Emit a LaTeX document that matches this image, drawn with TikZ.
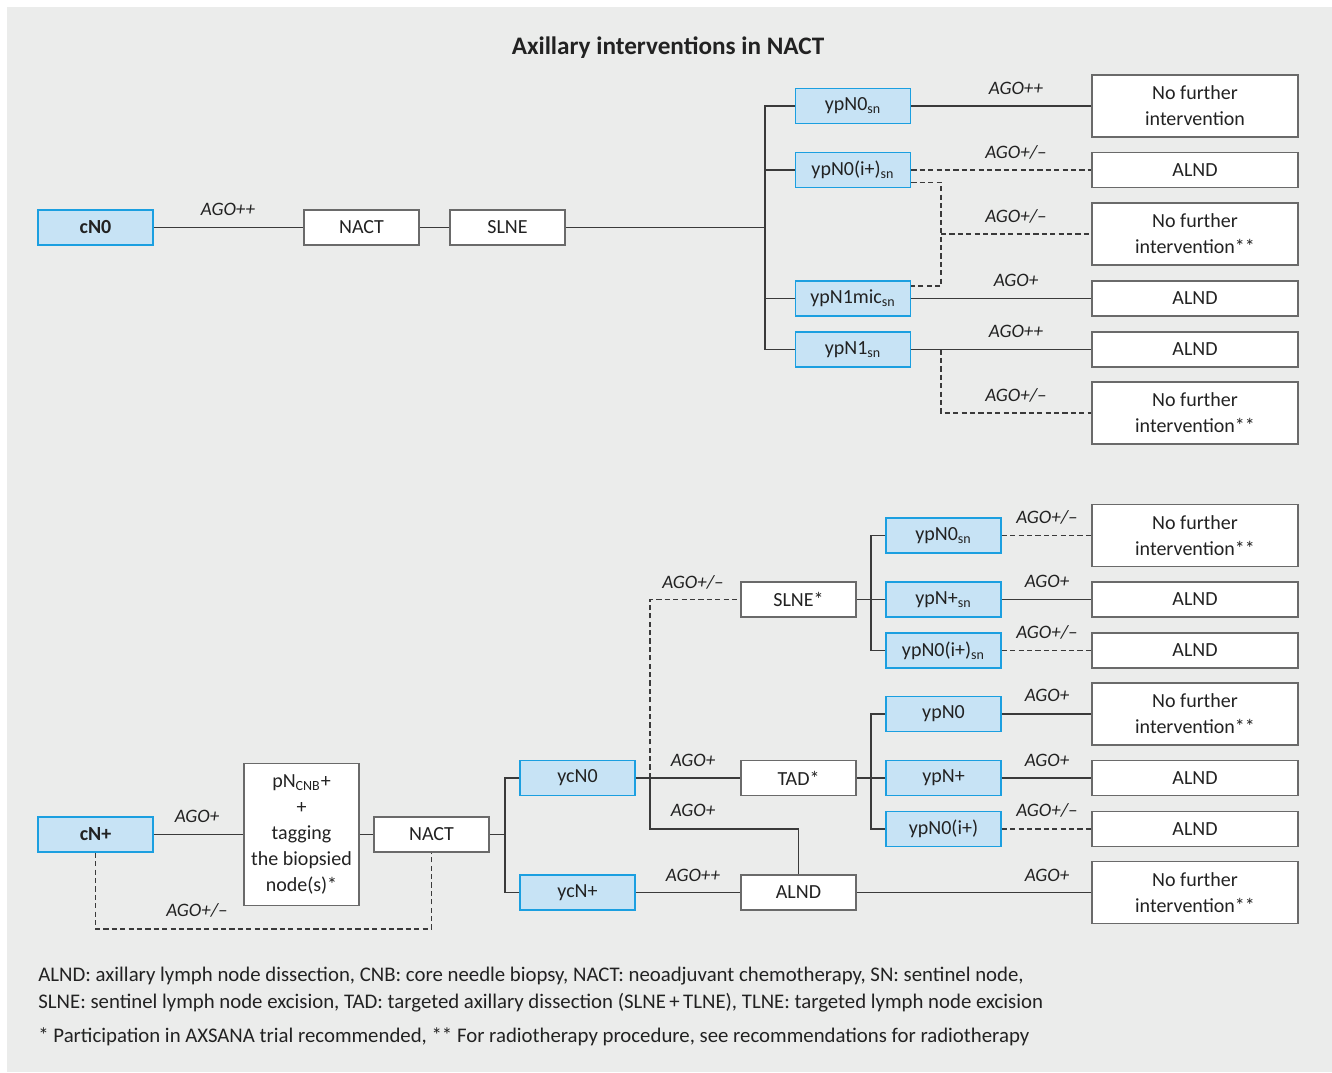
\documentclass[tikz,border=0pt]{standalone}
\usepackage{fontspec}
\setmainfont{Carlito}
\usetikzlibrary{positioning}
\definecolor{panel}{HTML}{EBECEB}
\definecolor{bluefill}{HTML}{C7E3F5}
\definecolor{blueline}{HTML}{1B9FE0}
\definecolor{boxline}{HTML}{6A6A6A}
\definecolor{wire}{HTML}{3A3A3A}
\definecolor{ink}{HTML}{222222}
\tikzset{
  prog/.style={rectangle, draw=boxline, fill=white, line width=0.8pt, text=ink, minimum width=57.5pt, minimum height=17.5pt, inner sep=1pt, font={\fontsize{10}{13}\selectfont}},
  progbl/.style={prog, draw=blueline, fill=bluefill},
  outcome/.style={prog, minimum width=103pt, align=center},
  outcome2/.style={outcome, minimum height=31pt},
  tagbox/.style={prog, minimum height=71pt, align=center},
  line/.style={draw=wire, line width=0.7pt},
  dline/.style={draw=wire, line width=0.75pt, dash pattern=on 2.6pt off 1.6pt},
  ago/.style={font={\fontsize{9.5}{11}\selectfont\itshape}, text=ink, inner sep=0pt},
  note/.style={font={\fontsize{10.4}{12}\selectfont}, text=ink, anchor=west, inner sep=0pt},
}
\begin{document}
\begin{tikzpicture}[x=0.5pt,y=-0.5pt]
    \fill[white] (0,0) rectangle (1332,1072);
    \fill[panel] (7,7) rectangle (1332,1072);

    \node[font={\fontsize{12.6}{15}\selectfont\bfseries}, text=ink] (title) at (668,48) {Axillary interventions in NACT};

    % cN0 branch
    \node[progbl, font={\fontsize{10}{13}\selectfont\bfseries}] (cn0) at (95.5,227.5) {cN0};
    \node[prog, right of=cn0, node distance=133pt] (nact1) {NACT};
    \node[prog, right of=nact1, node distance=73pt] (slne1) {SLNE};

    \node[progbl] (n0sn) at (853,106) {ypN0\textsubscript{sn}};
    \node[progbl] (n0isn) at (853,170) {ypN0(i+)\textsubscript{sn}};
    \node[progbl] (n1micsn) at (853,298.5) {ypN1mic\textsubscript{sn}};
    \node[progbl] (n1sn) at (853,349.5) {ypN1\textsubscript{sn}};

    \node[outcome2] (nfi1) at (1195,106) {No further\\intervention};
    \node[outcome] (alnd1) at (1195,170) {ALND};
    \node[outcome2] (nfi2) at (1195,234) {No further\\intervention**};
    \node[outcome] (alnd2) at (1195,298.5) {ALND};
    \node[outcome] (alnd3) at (1195,349.5) {ALND};
    \node[outcome2] (nfi3) at (1195,413) {No further\\intervention**};

    \coordinate (tk1) at (765,227.5);
    \coordinate (dj1) at (941,234);
    \coordinate (dj2) at (941,349.5);

    \node[ago] (a1) at (228,209) {AGO++};
    \node[ago] (a2) at (1016,88) {AGO++};
    \node[ago] (a3) at (1016,152) {AGO+/–};
    \node[ago] (a4) at (1016,216) {AGO+/–};
    \node[ago] (a5) at (1016,280) {AGO+};
    \node[ago] (a6) at (1016,331) {AGO++};
    \node[ago] (a7) at (1016,395) {AGO+/–};

    \begin{scope}[every path/.style=line]
      \path (cn0) -- (nact1);
      \path (nact1) -- (slne1);
      \path (slne1) -- (tk1);
      \path (n0sn.west) -| (tk1);
      \path (n0isn.west) -| (tk1);
      \path (n1micsn.west) -| (tk1);
      \path (n1sn.west) -| (tk1);
      \path (n0sn) -- (nfi1);
      \path (n1micsn) -- (alnd2);
      \path (n1sn) -- (alnd3);
    \end{scope}
    \begin{scope}[every path/.style=dline]
      \path (n0isn) -- (alnd1);
      \path ([yshift=3pt]n0isn.south east) -| (dj1) |- ([yshift=-3pt]n1micsn.north east);
      \path (dj1) -- (nfi2.west);
      \path (dj2) |- (nfi3.west);
    \end{scope}

    % cN+ branch
    \node[progbl, font={\fontsize{10}{13}\selectfont\bfseries}] (cnp) at (95.5,834.5) {cN+};
    \node[tagbox] (tag) at (301.5,834.5) {pN\textsubscript{CNB}+\\+\\tagging\\the biopsied\\node(s)*};
    \node[prog] (nact2) at (431.5,834.5) {NACT};
    \node[progbl] (ycn0) at (577.5,778) {ycN0};
    \node[progbl] (ycnp) at (577.5,892.5) {ycN+};
    \node[prog] (slne2) at (798.5,599.5) {SLNE*};
    \node[prog] (tad) at (798.5,778) {TAD*};
    \node[prog] (alnd5) at (798.5,892.5) {ALND};

    \node[progbl] (n0sn2) at (943.5,535.5) {ypN0\textsubscript{sn}};
    \node[progbl] (npsn) at (943.5,599.5) {ypN+\textsubscript{sn}};
    \node[progbl] (n0isn2) at (943.5,650.5) {ypN0(i+)\textsubscript{sn}};
    \node[progbl] (n0) at (943.5,714) {ypN0};
    \node[progbl] (np) at (943.5,778) {ypN+};
    \node[progbl] (n0i) at (943.5,829) {ypN0(i+)};

    \node[outcome2] (nfi4) at (1195,535.5) {No further\\intervention**};
    \node[outcome] (alnd6) at (1195,599.5) {ALND};
    \node[outcome] (alnd7) at (1195,650.5) {ALND};
    \node[outcome2] (nfi5) at (1195,714) {No further\\intervention**};
    \node[outcome] (alnd8) at (1195,778) {ALND};
    \node[outcome] (alnd9) at (1195,829) {ALND};
    \node[outcome2] (nfi6) at (1195,892.5) {No further\\intervention**};

    \coordinate (dk1) at (95.5,929);
    \coordinate (tk2) at (505,834.5);
    \coordinate (tk3) at (650,778);
    \coordinate (tk4) at (650,829);
    \coordinate (tk5) at (871,599.5);
    \coordinate (tk6) at (871,778);

    \node[ago] (b1) at (197,816) {AGO+};
    \node[ago] (b2) at (197,910) {AGO+/–};
    \node[ago] (b3) at (693,582) {AGO+/–};
    \node[ago] (b4) at (693,760) {AGO+};
    \node[ago] (b5) at (693,810) {AGO+};
    \node[ago] (b6) at (693,875) {AGO++};
    \node[ago] (b7) at (1047,517) {AGO+/–};
    \node[ago] (b8) at (1047,581) {AGO+};
    \node[ago] (b9) at (1047,632) {AGO+/–};
    \node[ago] (b10) at (1047,695) {AGO+};
    \node[ago] (b11) at (1047,760) {AGO+};
    \node[ago] (b12) at (1047,810) {AGO+/–};
    \node[ago] (b13) at (1047,875) {AGO+};

    \begin{scope}[every path/.style=line]
      \path (cnp) -- (tag);
      \path (tag) -- (nact2);
      \path (nact2) -- (tk2);
      \path (ycn0.west) -| (tk2);
      \path (ycnp.west) -| (tk2);
      \path (ycn0) -- (tad);
      \path (tk3) -- (tk4) -| (alnd5.north);
      \path (ycnp) -- (alnd5);
      \path (alnd5) -- (nfi6);
      \path (slne2) -- (npsn);
      \path (n0sn2.west) -| (tk5);
      \path (n0isn2.west) -| (tk5);
      \path (tad) -- (np);
      \path (n0.west) -| (tk6);
      \path (n0i.west) -| (tk6);
      \path (npsn) -- (alnd6);
      \path (n0) -- (nfi5);
      \path (np) -- (alnd8);
    \end{scope}
    \begin{scope}[every path/.style=dline]
      \path (cnp.south) |- (dk1) -| (nact2.south);
      \path (tk3) |- (slne2.west);
      \path (n0sn2) -- (nfi4);
      \path (n0isn2) -- (alnd7);
      \path (n0i) -- (alnd9);
    \end{scope}

    % notes
    \node[note] (note1) at (38,976) {ALND: axillary lymph node dissection, CNB: core needle biopsy, NACT: neoadjuvant chemotherapy, SN: sentinel node,};
    \node[note] (note2) at (38,1003) {SLNE: sentinel lymph node excision, TAD: targeted axillary dissection (SLNE\,+\,TLNE), TLNE: targeted lymph node excision};
    \node[note] (note3) at (38,1037) {* Participation in AXSANA trial recommended, ** For radiotherapy procedure, see recommendations for radiotherapy};
\end{tikzpicture}
\end{document}
